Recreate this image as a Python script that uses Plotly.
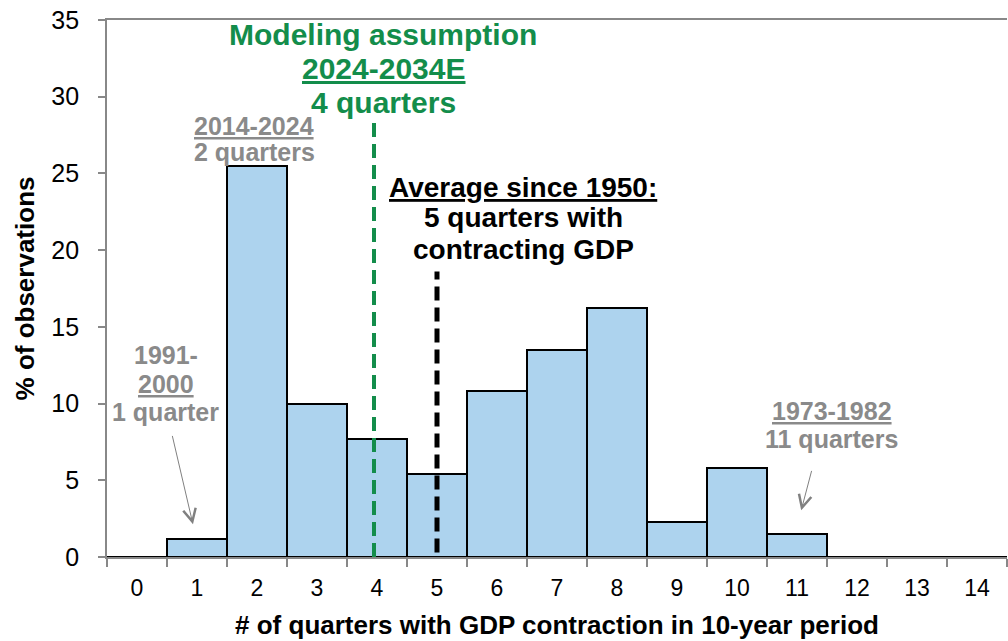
import plotly.graph_objects as go

# ---- data ----
categories = [str(i) for i in range(15)]
pct_obs = [0, 1.15, 25.5, 10.0, 7.7, 5.4, 10.8, 13.5, 16.2, 2.3, 5.8, 1.5, 0, 0, 0]

model_assumption_x = 3.95
model_line_top = 28.7
avg_x = 5
avg_line_top = 18.6
avg_line_bottom = 0.3

FONT = "Arial, Liberation Sans, sans-serif"
GREEN = "#138D4B"
GRAY = "#8A8A8A"
AXIS = "#888888"

fig = go.Figure()
fig.add_trace(go.Bar(
    x=categories, y=pct_obs,
    marker=dict(color="#ADD3EE", line=dict(color="black", width=2)),
    width=1.0, showlegend=False, hoverinfo="skip",
))

# vertical reference lines
fig.add_shape(type="line", xref="x", yref="y",
              x0=model_assumption_x, x1=model_assumption_x, y0=0, y1=model_line_top,
              line=dict(color=GREEN, width=4, dash="14px,7px"))
fig.add_shape(type="line", xref="x", yref="y",
              x0=avg_x, x1=avg_x, y0=avg_line_bottom, y1=avg_line_top,
              line=dict(color="black", width=5, dash="14px,7px"))

def txt(x, y, s, color, size):
    fig.add_annotation(x=x, y=y, xref="x", yref="y", text=s, showarrow=False,
                       font=dict(family=FONT, size=size, color=color),
                       xanchor="center", yanchor="middle")

# green annotation
txt(4.1, 34.05, "<b>Modeling assumption</b>", GREEN, 30)
txt(4.1, 31.84, "<b><u>2024-2034E</u></b>", GREEN, 30)
txt(4.1, 29.62, "<b>4 quarters</b>", GREEN, 30)
# gray 2014-2024
txt(1.95, 28.06, "<b><u>2014-2024</u></b>", GRAY, 25)
txt(1.95, 26.39, "<b>2 quarters</b>", GRAY, 25)
# black average
txt(6.44, 24.08, "<b><u>Average since 1950:</u></b>", "black", 28)
txt(6.44, 22.13, "<b>5 quarters with</b>", "black", 28)
txt(6.44, 20.05, "<b>contracting GDP</b>", "black", 28)
# gray 1991-2000
txt(0.48, 13.14, "<b>1991-</b>", GRAY, 25)
txt(0.48, 11.25, "<b><u>2000</u></b>", GRAY, 25)
txt(0.48, 9.43, "<b>1 quarter</b>", GRAY, 25)
# gray 1973-1982
txt(11.58, 9.49, "<b><u>1973-1982</u></b>", GRAY, 25)
txt(11.58, 7.67, "<b>11 quarters</b>", GRAY, 25)

# arrows
for (hx, hy, tx, ty) in [(0.933, 2.13, 0.583, 7.99), (11.07, 3.04, 11.25, 5.71)]:
    fig.add_annotation(x=hx, y=hy, ax=tx, ay=ty, xref="x", yref="y", axref="x", ayref="y",
                       text="", showarrow=True, arrowhead=5, arrowsize=2.5,
                       arrowwidth=1, arrowcolor="#808080")

fig.update_layout(
    width=1008, height=641,
    margin=dict(l=107, r=1, t=20, b=84),
    paper_bgcolor="white", plot_bgcolor="white",
    bargap=0,
    font=dict(family=FONT, color="black"),
)
fig.update_xaxes(
    type="category", categoryorder="array", categoryarray=categories,
    range=[-0.5, 14.5], tickson="boundaries",
    showline=True, linecolor=AXIS, linewidth=1.7, mirror=True,
    ticks="outside", ticklen=8, tickwidth=1.5, tickcolor=AXIS,
    tickfont=dict(size=23, family=FONT, color="black"),
    ticklabelstandoff=10, showgrid=False, zeroline=False,
    title=dict(text="<b># of quarters with GDP contraction in 10-year period</b>",
               font=dict(size=26, family=FONT, color="black"), standoff=15),
)
fig.update_yaxes(
    range=[0, 35], dtick=5, tick0=0,
    showline=True, linecolor=AXIS, linewidth=1.7,
    ticks="outside", ticklen=7, tickwidth=1.5, tickcolor=AXIS,
    tickfont=dict(size=25, family=FONT, color="black"),
    ticklabelstandoff=14, showgrid=False, zeroline=False,
    title=dict(text="<b>% of observations</b>",
               font=dict(size=26, family=FONT, color="black"), standoff=9),
)

fig.write_html("out.html", config={"displayModeBar": False},
               post_script="document.body.style.margin='0';document.body.style.overflow='hidden';")
